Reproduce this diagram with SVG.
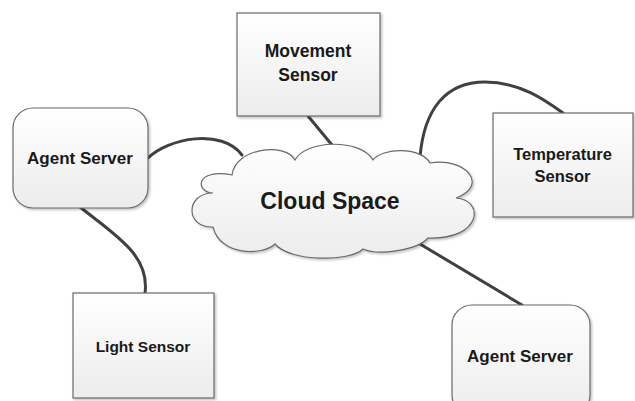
<svg xmlns="http://www.w3.org/2000/svg" width="635" height="401" viewBox="0 0 635 401">
  <defs>
    <linearGradient id="fillGrad" x1="0" y1="0" x2="0" y2="1">
      <stop offset="0" stop-color="#ffffff"/>
      <stop offset="1" stop-color="#ececec"/>
    </linearGradient>
    <filter id="shadow" x="-10%" y="-10%" width="125%" height="125%">
      <feDropShadow dx="1.5" dy="1.5" stdDeviation="1" flood-color="#000000" flood-opacity="0.25"/>
    </filter>
  </defs>
  <style>
    .box { fill: url(#fillGrad); stroke: #6a6a6a; stroke-width: 1.2; filter: url(#shadow); }
    .conn { fill: none; stroke: #404040; stroke-width: 3; stroke-linecap: round; }
    .lbl { font-family: "Liberation Sans", Arial, sans-serif; font-weight: bold; fill: #1a1a1a; text-anchor: middle; }
  </style>
  <rect width="635" height="401" fill="#ffffff"/>

  <g id="connectors">
    <path class="conn" d="M148,158 C168,138 222,128 242,155"/>
    <path class="conn" d="M80,207 C115,235 150,255 145,293"/>
    <path class="conn" d="M308,116 L332,145"/>
    <path class="conn" d="M420,157 C424,110 445,82 485,82 C520,82 545,100 563,113"/>
    <path class="conn" d="M420,244 L522,305"/>
  </g>

  <g id="cloud">
    <path class="box" d="M232,175 C235,148 285,142 295,160 C305,140 360,138 373,160 C382,148 420,146 430,163 C465,157 490,185 456,198 C485,200 482,240 428,238 C418,250 378,256 363,249 C350,262 290,262 275,244 C262,256 220,256 213,227 C185,228 185,193 213,193 C195,192 195,168 232,175 Z"/>
    <text class="lbl" x="330" y="209" font-size="23">Cloud Space</text>
  </g>

  <g id="movement-sensor">
    <rect class="box" x="237" y="13" width="143" height="103"/>
    <text class="lbl" x="308" y="57" font-size="17.5">Movement</text>
    <text class="lbl" x="308" y="81" font-size="17.5">Sensor</text>
  </g>

  <g id="agent-server-left">
    <rect class="box" x="13" y="108" width="135" height="100" rx="20" ry="20"/>
    <text class="lbl" x="80" y="164" font-size="17">Agent Server</text>
  </g>

  <g id="temperature-sensor">
    <rect class="box" x="493" y="113" width="140" height="104"/>
    <text class="lbl" x="562.5" y="160" font-size="16.5">Temperature</text>
    <text class="lbl" x="562.5" y="182" font-size="16.5">Sensor</text>
  </g>

  <g id="light-sensor">
    <rect class="box" x="73" y="293" width="141" height="105"/>
    <text class="lbl" x="143" y="352" font-size="15.5">Light Sensor</text>
  </g>

  <g id="agent-server-right">
    <rect class="box" x="452" y="305" width="138" height="110" rx="20" ry="20"/>
    <text class="lbl" x="520" y="362" font-size="17">Agent Server</text>
  </g>
</svg>
